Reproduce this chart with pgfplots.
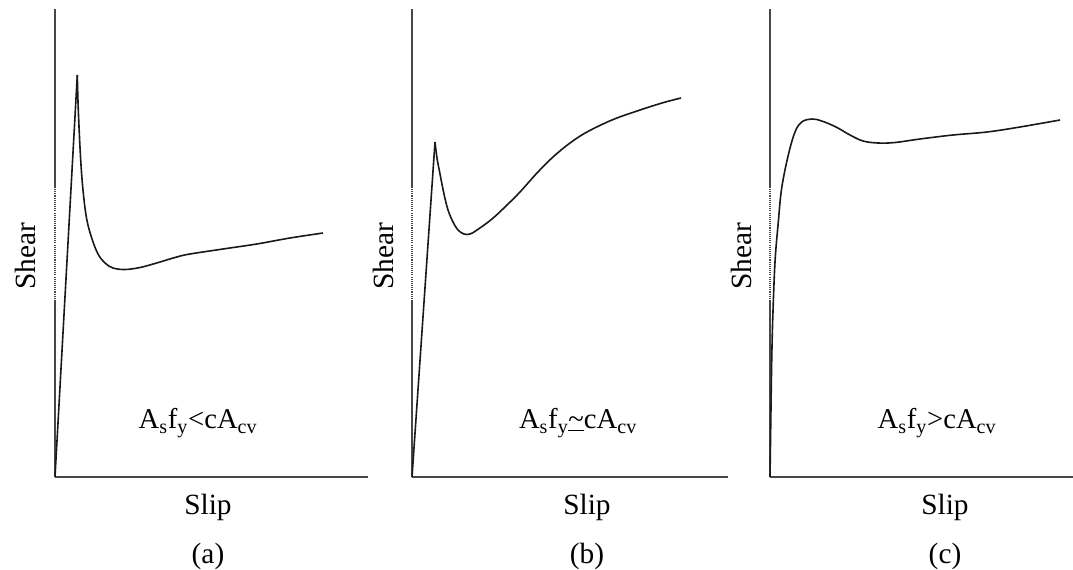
\documentclass[border=0pt]{standalone}
\usepackage{pgfplots}
\pgfplotsset{compat=1.18}
\usepackage{fontspec}
\setmainfont{Liberation Serif}
\pgfplotsset{panel/.style={x=0.75pt,y=0.75pt,xmin=0,ymin=0,ymax=468,enlargelimits=false,
  axis x line=bottom,axis y line=left,
  axis line style={-,black!72,line width=1.1pt},x axis line style={-},y axis line style={-},
  ticks=none,anchor=south west,clip=false},
  curve/.style={black!90,line width=1.2pt,no marks}}
\newcommand\lab{\fontsize{22}{26}\selectfont}
\newcommand\ann{\fontsize{21.5}{25}\selectfont}
\newcommand\axisdots{\draw[white,line width=1.3pt,dash pattern=on 0.8pt off 0.8pt] (axis cs:0,177) -- (axis cs:0,289);}
\begin{document}
\begin{tikzpicture}
\useasboundingbox (0,0) rectangle (804.75pt,426.75pt);
% (a)
\begin{axis}[panel,xmax=313,at={(41.25pt,69pt)}]
\axisdots
\addplot[curve] coordinates {(0,0) (22.3,402)};
\addplot[curve,smooth,tension=0.6] coordinates {(22.3,402) (23.3,367) (25.7,317) (28.3,284) (31.7,258) (36.7,239) (43,223) (50,214) (58,209) (70,207.5) (85,209.5) (101.7,214) (121.7,220) (135,223) (168,228) (201.7,233) (235,239) (268,244)};
\end{axis}
% (b)
\begin{axis}[panel,xmax=316,at={(309pt,69pt)}]
\axisdots
\addplot[curve] coordinates {(0,0) (23,335)};
\addplot[curve,smooth,tension=0.6] coordinates {(23,335) (25,319) (28,303) (32,283) (36,267) (41,255) (46,247) (52,243) (58,243) (65,247) (80,258) (95,272) (108,285) (125,304) (141,320) (158,334) (175,345) (200,357) (225,366) (250,374) (269,379)};
\end{axis}
% (c)
\begin{axis}[panel,xmax=303,at={(577.5pt,69pt)}]
\axisdots
\addplot[curve,smooth,tension=0.6] coordinates {(0,0) (0.8,56) (1.7,116) (2.8,160) (5,215) (8.3,255) (11.7,289) (18.3,322) (25,345) (31.7,355) (41.7,358) (51.7,356) (66,350) (80,342) (93,336) (108,334) (125,334.5) (150,338) (183,342) (217,345) (250,350) (290,357)};
\end{axis}
\begin{scope}[x=0.75pt,y=0.75pt]
\foreach \xs/\xl/\tag in {25/208/a, 383/587/b, 741/945/c}{
  \node[rotate=90,font=\lab] at (\xs,313) {Shear};
  \node[font=\lab] at (\xl,62) {Slip};
  \node[font=\lab] at (\xl,13) {(\tag)};
}
\node[font=\ann] at (198,146) {A\textsubscript{s}f\textsubscript{y}<cA\textsubscript{cv}};
\node[font=\ann] at (578,146) {A\textsubscript{s}f\textsubscript{y}\underline{\textasciitilde}cA\textsubscript{cv}};
\node[font=\ann] at (937,146) {A\textsubscript{s}f\textsubscript{y}>cA\textsubscript{cv}};
\end{scope}
\end{tikzpicture}
\end{document}
